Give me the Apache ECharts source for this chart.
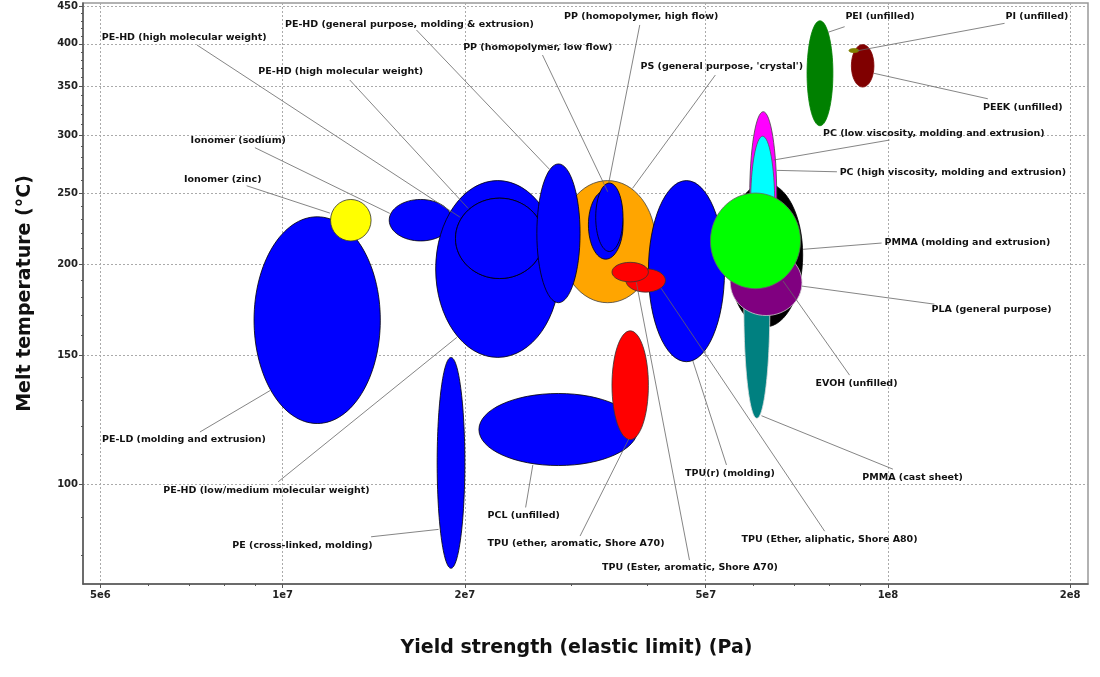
<!DOCTYPE html>
<html>
<head>
<meta charset="utf-8">
<title>Melt temperature vs yield strength</title>
<script src="https://cdn.jsdelivr.net/npm/echarts@6/dist/echarts.min.js"></script>
<style>
  html, body { margin: 0; padding: 0; background: #fff; }
  #chart { width: 1100px; height: 677px; }
</style>
</head>
<body>
<div id="chart"></div>
<script>
// materials in drawing order (later ones sit on top)
const materials = [
  'PE-LD (molding and extrusion)',
  'Ionomer (zinc)',
  'Ionomer (sodium)',
  'PE (cross-linked, molding)',
  'PCL (unfilled)',
  'TPU (ether, aromatic, Shore A70)',
  "PS (general purpose, 'crystal')",
  'PE-HD (low/medium molecular weight)',
  'PE-HD (high molecular weight)',
  'PE-HD (high molecular weight)',
  'PE-HD (general purpose, molding & extrusion)',
  'PP (homopolymer, low flow)',
  'PP (homopolymer, high flow)',
  'TPU(r) (molding)',
  'TPU (Ether, aliphatic, Shore A80)',
  'TPU (Ester, aromatic, Shore A70)',
  'EVOH (unfilled)',
  'PC (low viscosity, molding and extrusion)',
  'PC (high viscosity, molding and extrusion)',
  'PMMA (cast sheet)',
  'PLA (general purpose)',
  'PMMA (molding and extrusion)',
  'PEI (unfilled)',
  'PEEK (unfilled)',
  'PI (unfilled)',
]

// yield strength (Pa), low / high
const yieldLow = [8.97e6, 1.20e7, 1.50e7, 1.80e7, 2.11e7, 3.50e7, 2.87e7, 1.79e7, 1.93e7, 1.93e7, 2.63e7, 3.20e7, 3.29e7, 4.02e7, 3.69e7, 3.50e7, 5.44e7, 5.91e7, 5.93e7, 5.78e7, 5.49e7, 5.09e7, 7.35e7, 8.70e7, 8.62e7]
const yieldHigh = [1.45e7, 1.40e7, 1.905e7, 2.00e7, 3.86e7, 4.02e7, 4.13e7, 2.87e7, 2.70e7, 2.70e7, 3.10e7, 3.65e7, 3.65e7, 5.37e7, 4.29e7, 4.02e7, 7.23e7, 6.55e7, 6.50e7, 6.38e7, 7.21e7, 7.17e7, 8.11e7, 9.48e7, 8.95e7]

// melt temperature (°C), low / high
const meltLow = [121, 215, 215, 76.7, 106, 115, 177, 149, 191, 191, 177, 203, 208, 147, 183, 189, 164, 190, 195, 123, 170, 185, 309, 349, 389]
const meltHigh = [232, 245, 245, 149, 133, 162, 260, 260, 246, 246, 274, 252, 258, 260, 197, 201, 258, 323, 299, 245, 209, 250, 430, 399, 394]

// axis ticks
const xTicks = [5e6, 1e7, 2e7, 5e7, 1e8, 2e8]
const xTickLabels = ['5e6', '1e7', '2e7', '5e7', '1e8', '2e8']
const xMinorTicks = [6e6, 7e6, 8e6, 9e6, 3e7, 4e7, 6e7, 7e7, 8e7, 9e7]
const yTicks = [100, 150, 200, 250, 300, 350, 400, 450]
const yTickLabels = ['100', '150', '200', '250', '300', '350', '400', '450']
const yMinorTicks = [80, 90, 110, 120, 130, 140, 160, 170, 180, 190, 210, 220, 230, 240,
  260, 270, 280, 290, 310, 320, 330, 340, 360, 370, 380, 390, 410, 420, 430, 440]

// where each name sits, and its leader line, in data units (same order as materials)
const labelX = [5.03e6, 6.871e6, 7.047e6, 8.26e6, 2.18e7, 2.18e7, 3.90e7, 6.35e6, 5.026e6, 9.116e6, 1.0088e7, 1.987e7, 2.917e7, 4.62e7, 5.73e7, 3.37e7, 7.59e7, 7.81e7, 8.32e7, 9.07e7, 1.18e8, 9.87e7, 8.505e7, 1.435e8, 1.564e8]
const labelY = [115.2, 261.2, 295.4, 82.5, 90.5, 82.8, 372.1, 98.1, 408.2, 367.1, 425.2, 395.5, 435.5, 103.4, 84.0, 76.8, 137.3, 301.7, 266.5, 102.1, 173.5, 213.6, 435.5, 327.4, 435.5]
const leaderFromX = [7.30e6, 8.722e6, 9.00e6, 1.40e7, 2.52e7, 3.10e7, 5.186e7, 9.83e6, 7.222e6, 1.291e7, 1.664e7, 2.687e7, 3.89e7, 5.41e7, 7.86e7, 4.70e7, 8.64e7, 1.006e8, 8.235e7, 1.019e8, 1.193e8, 9.76e7, 8.48e7, 1.462e8, 1.558e8]
const leaderFromY = [117.8, 255.8, 288.4, 84.7, 92.9, 84.9, 362.5, 100.7, 398.4, 356.9, 417.7, 386.1, 424.4, 106.2, 86.2, 78.7, 140.9, 295.4, 267.3, 104.8, 176.2, 213.6, 422.1, 336.4, 426.6]
const leaderToX = [9.53e6, 1.197e7, 1.503e7, 1.81e7, 2.59e7, 3.73e7, 3.784e7, 1.94e7, 1.962e7, 2.025e7, 2.757e7, 3.444e7, 3.457e7, 4.76e7, 4.22e7, 3.84e7, 6.71e7, 6.473e7, 6.555e7, 6.18e7, 7.21e7, 7.24e7, 7.958e7, 9.478e7, 8.918e7]
const leaderToY = [134.2, 234.7, 234.5, 86.7, 106.2, 115.2, 253.7, 158.7, 231.8, 238.2, 269.6, 251.0, 258.0, 147.4, 185.2, 188.7, 189.5, 277.4, 268.5, 124.0, 186.5, 209.4, 414.7, 364.5, 391.4]

// colours
const fills = ['#0000ff', '#ffff00', '#0000ff', '#0000ff', '#0000ff', '#ff0000', '#ffa500', '#0000ff', '#0000ff', '#0000ff', '#0000ff', '#0000ff', '#0000ff', '#0000ff', '#ff0000', '#ff0000', '#000000', '#ff00ff', '#00ffff', '#008080', '#800080', '#00ff00', '#008000', '#800000', '#808000']
const strokes = ['#000', '#333', '#000', '#000', '#000', '#333', '#444', '#000', '#000', '#000', '#000', '#000', '#000', '#000', '#333', '#333', '#000', '#444', '#555', '#ddd', '#ccc', '#666', '#008000', '#800000', '#808000']

const chartDom = document.getElementById('chart')
const myChart = echarts.init(chartDom, null, { renderer: 'canvas' })

const pickLabel = (ticks, labels, v) => {
  let best = 0
  ticks.forEach((t, i) => {
    if (Math.abs(Math.log(t / v)) < Math.abs(Math.log(ticks[best] / v))) best = i
  })
  return labels[best]
}

const renderEllipse = (params, api) => {
  const i = params.dataIndex
  const lo = api.coord([api.value(0), api.value(2)])
  const hi = api.coord([api.value(1), api.value(3)])
  return {
    type: 'ellipse',
    shape: {
      cx: (lo[0] + hi[0]) / 2,
      cy: (lo[1] + hi[1]) / 2,
      rx: Math.abs(hi[0] - lo[0]) / 2,
      ry: Math.abs(lo[1] - hi[1]) / 2,
    },
    style: { fill: fills[i], stroke: strokes[i], lineWidth: 0.8 },
  }
}

const renderLabel = (params, api) => {
  const i = params.dataIndex
  const from = api.coord([api.value(0), api.value(1)])
  const to = api.coord([api.value(2), api.value(3)])
  const at = api.coord([api.value(4), api.value(5)])
  return {
    type: 'group',
    children: [
      {
        type: 'line',
        shape: { x1: from[0], y1: from[1], x2: to[0], y2: to[1] },
        style: { stroke: '#666', lineWidth: 0.8 },
      },
      {
        type: 'text',
        x: at[0],
        y: at[1],
        style: {
          text: materials[i],
          fill: '#111',
          font: 'bold 9.5px "DejaVu Sans"',
          align: 'left',
          verticalAlign: 'middle',
        },
      },
    ],
  }
}

const tickFont = { fontFamily: 'DejaVu Sans', fontWeight: 'bold', fontSize: 10, color: '#222' }
const titleFont = { fontFamily: 'DejaVu Sans', fontWeight: 'bold', fontSize: 19, color: '#111' }
const gridLine = { show: true, lineStyle: { type: [2, 2], color: '#aaa', width: 1 } }

const option = {
  animation: false,
  grid: {
    left: 83, right: 12, top: 3, bottom: 93,
    show: true, borderColor: '#999', borderWidth: 1.5,
    outerBoundsMode: 'none',
  },
  xAxis: [
    {
      type: 'log', logBase: 10, min: 4.68e6, max: 2.14e8, position: 'bottom',
      name: 'Yield strength (elastic limit) (Pa)', nameLocation: 'middle', nameGap: 55,
      nameTextStyle: { ...titleFont, padding: [0, 18, 0, 0] },
      axisLine: { lineStyle: { color: '#555', width: 1.5 } },
      axisTick: { customValues: xTicks, length: 4, lineStyle: { color: '#555' } },
      axisLabel: { customValues: xTicks, margin: 6, ...tickFont, formatter: v => pickLabel(xTicks, xTickLabels, v) },
      splitLine: gridLine,
      minorTick: { show: false },
    },
    {
      type: 'log', logBase: 10, min: 4.68e6, max: 2.14e8, position: 'bottom',
      axisLine: { show: false },
      axisTick: { customValues: xMinorTicks, length: 2, lineStyle: { color: '#555' } },
      axisLabel: { show: false },
      splitLine: { show: false },
    },
  ],
  yAxis: [
    {
      type: 'log', logBase: 10, min: 73.0, max: 454.8, position: 'left',
      name: 'Melt temperature (°C)', nameLocation: 'middle', nameGap: 48,
      nameTextStyle: titleFont,
      axisLine: { show: true, lineStyle: { color: '#555', width: 1.5 } },
      axisTick: { show: true, customValues: yTicks, length: 4, lineStyle: { color: '#555' } },
      axisLabel: { customValues: yTicks, margin: 5, ...tickFont, formatter: v => pickLabel(yTicks, yTickLabels, v) },
      splitLine: gridLine,
      minorTick: { show: false },
    },
    {
      type: 'log', logBase: 10, min: 73.0, max: 454.8, position: 'left',
      axisLine: { show: false },
      axisTick: { show: true, customValues: yMinorTicks, length: 2, lineStyle: { color: '#555' } },
      axisLabel: { show: false },
      splitLine: { show: false },
    },
  ],
  series: [
    {
      type: 'custom',
      name: 'materials',
      silent: true,
      renderItem: renderEllipse,
      encode: { x: [0, 1], y: [2, 3] },
      data: materials.map((m, i) => [yieldLow[i], yieldHigh[i], meltLow[i], meltHigh[i]]),
    },
    {
      type: 'custom',
      name: 'labels',
      silent: true,
      renderItem: renderLabel,
      encode: { x: [0, 2, 4], y: [1, 3, 5] },
      data: materials.map((m, i) => [leaderFromX[i], leaderFromY[i], leaderToX[i], leaderToY[i], labelX[i], labelY[i]]),
    },
  ],
}

myChart.setOption(option)
</script>
</body>
</html>
